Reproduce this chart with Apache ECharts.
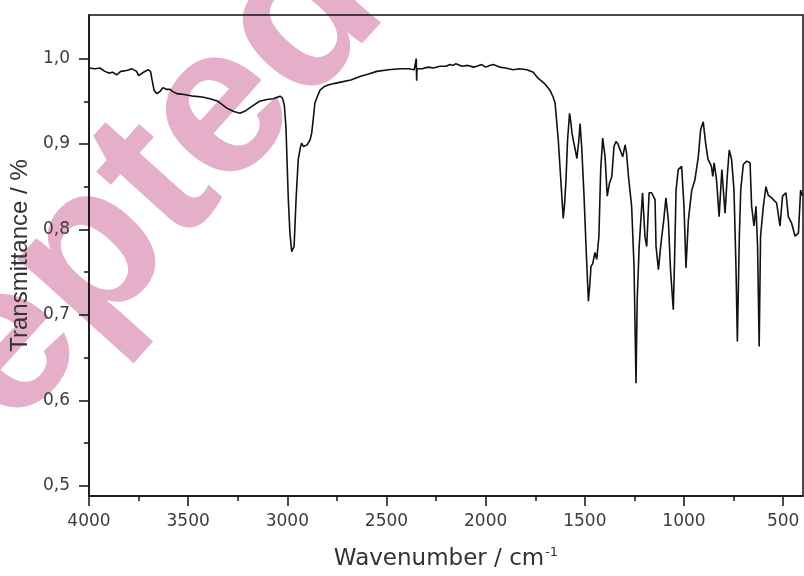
<!DOCTYPE html>
<html><head><meta charset="utf-8">
<script src="https://cdn.jsdelivr.net/npm/echarts@6/dist/echarts.min.js"></script>
<style>html,body{margin:0;padding:0;background:#fff}#c{width:804px;height:576px}</style>
</head><body><div id="c"></div>
<script>
const wavenumbers = [4000,3970,3945,3920,3900,3880,3860,3840,3810,3783,3760,3750,3740,3725,3702,3690,3682,3672,3657,3640,3627,3610,3592,3575,3557,3520,3475,3430,3390,3350,3305,3270,3239,3210,3173,3140,3103,3071,3037,3025,3015,3007,2995,2987,2978,2970,2966,2956,2945,2935,2928,2918,2911,2900,2894,2885,2877,2869,2861,2848,2835,2815,2794,2760,2719,2680,2634,2590,2549,2490,2432,2390,2360,2352,2350,2348,2346,2320,2290,2264,2230,2200,2180,2164,2150,2120,2090,2060,2045,2020,2000,1980,1962,1930,1900,1861,1830,1792,1760,1736,1726,1700,1676,1660,1650,1634,1617,1609,1602,1595,1587,1577,1570,1565,1557,1548,1540,1530,1524,1516,1504,1494,1482,1475,1469,1460,1449,1440,1429,1420,1410,1398,1387,1376,1364,1353,1343,1333,1323,1309,1297,1290,1280,1264,1252,1242,1236,1226,1209,1197,1188,1176,1164,1146,1141,1129,1120,1112,1104,1091,1079,1068,1054,1048,1040,1029,1012,1000,990,978,961,945,928,916,903,891,879,862,855,848,836,823,809,793,782,772,760,748,738,731,721,714,701,684,667,659,647,637,629,621,614,600,587,575,558,533,516,503,486,474,457,440,423,412,402];
const transmittance = [0.989,0.988,0.989,0.985,0.983,0.984,0.981,0.985,0.986,0.988,0.985,0.980,0.979,0.984,0.987,0.985,0.975,0.963,0.959,0.962,0.966,0.964,0.964,0.961,0.959,0.958,0.956,0.955,0.953,0.950,0.942,0.938,0.936,0.939,0.945,0.950,0.952,0.953,0.956,0.954,0.945,0.920,0.835,0.796,0.774,0.774,0.780,0.835,0.882,0.895,0.901,0.897,0.897,0.899,0.899,0.905,0.913,0.930,0.948,0.956,0.963,0.967,0.969,0.971,0.973,0.975,0.979,0.982,0.985,0.987,0.988,0.988,0.987,0.988,1.000,0.974,0.988,0.988,0.990,0.989,0.991,0.991,0.993,0.992,0.994,0.991,0.992,0.990,0.991,0.993,0.990,0.992,0.993,0.990,0.989,0.987,0.988,0.987,0.984,0.977,0.975,0.970,0.963,0.955,0.948,0.905,0.843,0.813,0.830,0.858,0.905,0.936,0.925,0.913,0.903,0.893,0.883,0.905,0.924,0.897,0.839,0.780,0.716,0.735,0.757,0.760,0.773,0.765,0.792,0.870,0.907,0.885,0.839,0.854,0.862,0.897,0.903,0.900,0.899,0.885,0.899,0.890,0.862,0.827,0.757,0.620,0.718,0.780,0.843,0.792,0.780,0.843,0.843,0.835,0.780,0.753,0.775,0.792,0.807,0.837,0.811,0.753,0.706,0.760,0.846,0.870,0.874,0.827,0.755,0.811,0.846,0.858,0.885,0.917,0.926,0.901,0.882,0.874,0.862,0.878,0.858,0.815,0.870,0.819,0.862,0.893,0.882,0.846,0.757,0.669,0.792,0.846,0.876,0.880,0.878,0.827,0.804,0.827,0.780,0.663,0.792,0.827,0.850,0.840,0.837,0.831,0.804,0.839,0.843,0.815,0.807,0.792,0.796,0.846,0.839];
const xTickLabels = [4000,3500,3000,2500,2000,1500,1000,500];
const xMinorTicks = [3750,3250,2750,2250,1750,1250,750];
const yTickLabels = [0.5,0.6,0.7,0.8,0.9,1.0];
const yMinorTicks = [0.55,0.65,0.75,0.85,0.95];
const xTitle = 'Wavenumber / cm';
const xTitleSup = '-1';
const yTitle = 'Transmittance / %';
const watermark = 'Accepted';

const chart = echarts.init(document.getElementById('c'), null, {renderer: 'canvas'});
const ink = '#111';
const labelColor = '#3c3c3c';
const X_MIN = 400, X_MAX = 4000, Y_MIN = 0.488, Y_MAX = 1.051;
const data = wavenumbers.map((w, i) => [w, transmittance[i]]);

chart.setOption({
  animation: false,
  backgroundColor: '#fff',
  grid: {left: 89, right: 1, top: 15, bottom: 80, show: true, borderColor: ink, borderWidth: 1.5,
    backgroundColor: 'transparent', z: 1, containLabel: false, outerBoundsMode: 'none'},
  xAxis: [{
    type: 'value', inverse: true, min: X_MIN, max: X_MAX, position: 'bottom',
    axisLine: {show: true, onZero: false, lineStyle: {color: ink, width: 1.5}},
    axisTick: {show: true, length: 10, customValues: xTickLabels, lineStyle: {color: ink, width: 1.5}},
    axisLabel: {customValues: xTickLabels, margin: 17, fontFamily: 'DejaVu Sans', fontSize: 17, color: labelColor,
      formatter: v => String(v)},
    splitLine: {show: false},
    name: xTitle + '{sup|' + xTitleSup + '}',
    nameLocation: 'middle', nameGap: 50,
    nameTextStyle: {fontFamily: 'DejaVu Sans', fontSize: 23, color: '#333',
      rich: {sup: {fontFamily: 'DejaVu Sans', fontSize: 13, color: '#333', padding: [0, 0, 14, 1]}}}
  }, {
    type: 'value', inverse: true, min: X_MIN, max: X_MAX, position: 'bottom',
    axisLine: {show: false, onZero: false},
    axisTick: {show: true, length: 5, customValues: xMinorTicks, lineStyle: {color: ink, width: 1.5}},
    axisLabel: {show: false}, splitLine: {show: false}
  }],
  yAxis: [{
    type: 'value', min: Y_MIN, max: Y_MAX, position: 'left',
    axisLine: {show: true, onZero: false, lineStyle: {color: ink, width: 1.5}},
    axisTick: {show: true, length: 10, customValues: yTickLabels, lineStyle: {color: ink, width: 1.5}},
    axisLabel: {customValues: yTickLabels, margin: 19, fontFamily: 'DejaVu Sans', fontSize: 17, color: labelColor,
      formatter: v => v.toFixed(1).replace('.', ',')},
    splitLine: {show: false},
    name: yTitle, nameLocation: 'middle', nameGap: 51, nameRotate: 90,
    nameTextStyle: {fontFamily: 'Liberation Sans', fontSize: 24, color: '#333'}
  }, {
    type: 'value', min: Y_MIN, max: Y_MAX, position: 'left',
    axisLine: {show: false, onZero: false},
    axisTick: {show: true, length: 5, customValues: yMinorTicks, lineStyle: {color: ink, width: 1.5}},
    axisLabel: {show: false}, splitLine: {show: false}
  }],
  series: [{
    type: 'line', xAxisIndex: 0, yAxisIndex: 0, data: data,
    showSymbol: false, symbol: 'none', smooth: false,
    lineStyle: {color: ink, width: 1.6}, z: 3
  }],
  graphic: [{
    type: 'text', x: 347, y: -27, rotation: 48 * Math.PI / 180, z: -10, zlevel: 0, silent: true,
    style: {text: watermark, x: 0, y: 0, align: 'right', verticalAlign: 'middle',
      textAlign: 'right', textVerticalAlign: 'middle',
      font: 'bold 212px "Liberation Sans", Arial, sans-serif', fill: '#e5afca'}
  }]
});
</script></body></html>
